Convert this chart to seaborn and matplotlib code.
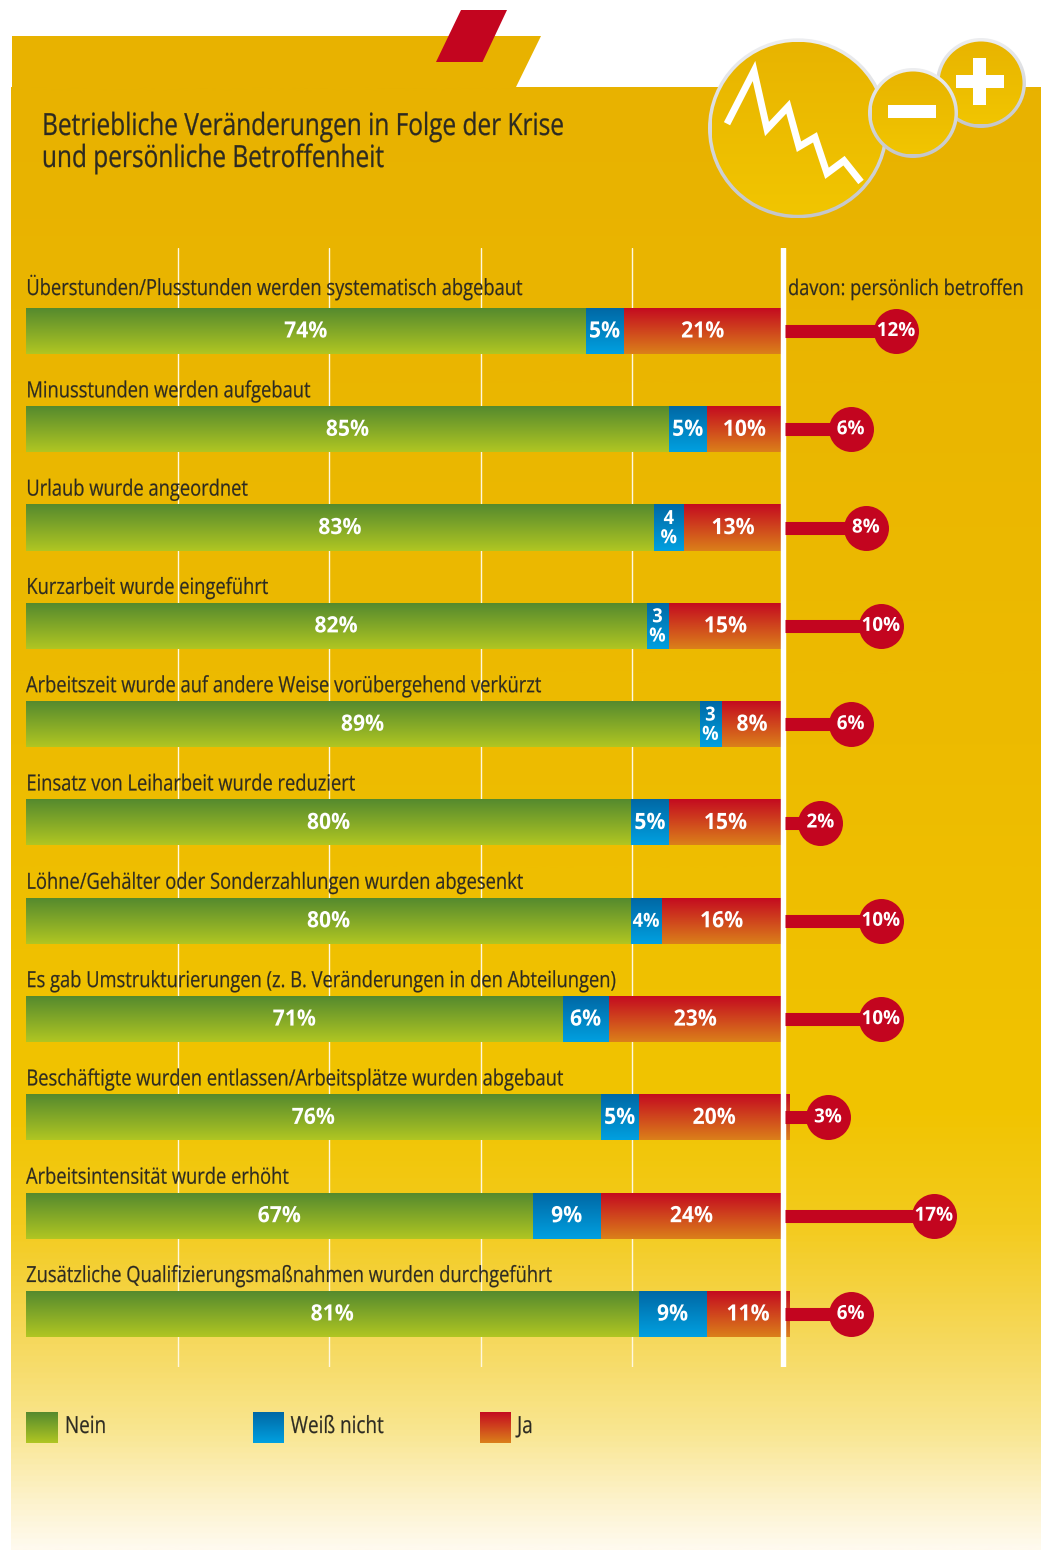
import numpy as np
import matplotlib
matplotlib.use("Agg")
import matplotlib.pyplot as plt
from matplotlib.colors import LinearSegmentedColormap, to_rgb
from matplotlib.patches import Polygon, Circle, Rectangle
from matplotlib.patheffects import AbstractPathEffect
from matplotlib.transforms import Affine2D
import seaborn as sns

# Survey results, one entry per measure (percent)
categories = [
    "Überstunden/Plusstunden werden systematisch abgebaut",
    "Minusstunden werden aufgebaut",
    "Urlaub wurde angeordnet",
    "Kurzarbeit wurde eingeführt",
    "Arbeitszeit wurde auf andere Weise vorübergehend verkürzt",
    "Einsatz von Leiharbeit wurde reduziert",
    "Löhne/Gehälter oder Sonderzahlungen wurden abgesenkt",
    "Es gab Umstrukturierungen (z. B. Veränderungen in den Abteilungen)",
    "Beschäftigte wurden entlassen/Arbeitsplätze wurden abgebaut",
    "Arbeitsintensität wurde erhöht",
    "Zusätzliche Qualifizierungsmaßnahmen wurden durchgeführt",
]
nein = [74, 85, 83, 82, 89, 80, 80, 71, 76, 67, 81]
weiss_nicht = [5, 5, 4, 3, 3, 5, 4, 6, 5, 9, 9]
ja = [21, 10, 13, 15, 8, 15, 16, 23, 20, 24, 11]
betroffen = [12, 6, 8, 10, 6, 2, 10, 10, 3, 17, 6]

title_lines = ["Betriebliche Veränderungen in Folge der Krise",
               "und persönliche Betroffenheit"]
side_heading = "davon: persönlich betroffen"
legend_labels = ["Nein", "Weiß nicht", "Ja"]

GREEN = ("#558A2E", "#B0C622")
BLUE = ("#0068A5", "#00A0E0")
RED = ("#C40B20", "#DB801A")
LOLLI = "#C3051F"
INK = "#2C2A22"

W, H = 1046, 1550
sns.set_theme(style="white")
plt.rcParams["font.family"] = ["Open Sans", "DejaVu Sans"]

fig = plt.figure(figsize=(W / 100, H / 100), dpi=100, facecolor="white")


class Condensed(AbstractPathEffect):
    """Narrow a text's glyphs horizontally about its left edge or its centre,
    with an optional thin outline to restore the stem weight lost by narrowing."""

    def __init__(self, factor, anchor="left", stroke=0.0):
        super().__init__()
        self.factor = factor
        self.anchor = anchor
        self.stroke = stroke

    def draw_path(self, renderer, gc, tpath, affine, rgbFace=None):
        box = tpath.get_extents(affine)
        x0 = box.x0 if self.anchor == "left" else 0.5 * (box.x0 + box.x1)
        squeeze = Affine2D().translate(-x0, 0).scale(self.factor, 1).translate(x0, 0)
        gc.set_linewidth(self.stroke)
        renderer.draw_path(gc, tpath, affine + squeeze, rgbFace)


def gradient(c0, c1, n=128):
    a, b = np.array(to_rgb(c0)), np.array(to_rgb(c1))
    t = np.linspace(0, 1, n)[:, None]
    return (a * (1 - t) + b * t)[:, None, :]


# --- page layer in pixel coordinates ---
bg = fig.add_axes([0, 0, 1, 1], zorder=0)
bg.set_xlim(0, W)
bg.set_ylim(H, 0)
bg.axis("off")

panel_cmap = LinearSegmentedColormap.from_list("panel", [
    (0.00, "#E8B200"), (0.45, "#EDBB00"), (0.70, "#F1C400"), (0.78, "#F3CB1E"),
    (0.86, "#F6D95E"), (0.92, "#F9E690"), (0.97, "#FDF3CE"), (1.00, "#FFFAEE"),
])
shade = np.linspace(0, 1, 512)[:, None]
bg.imshow(shade, cmap=panel_cmap, extent=[11, 1041, 1550, 87], aspect="auto",
          origin="upper", zorder=1)
bg.add_patch(Polygon([(12, 36), (541, 36), (516, 87), (12, 87)], fc="#E8B200", ec="none", zorder=1))
bg.add_patch(Polygon([(461, 10), (507, 10), (482.5, 62), (436, 62)], fc="#C3051F", ec="none", zorder=2))

for i, line in enumerate(title_lines):
    bg.text(41.5, 135 + 32 * i, line, fontsize=22, color=INK, va="baseline", ha="left", zorder=5,
            path_effects=[Condensed(0.80, stroke=0.2)])


def badge(cx, cy, r, z):
    """Round icon with a shaded rim and a soft gold fill."""
    bg.imshow(gradient("#EDEEF0", "#C4C6CA"), extent=[cx - r, cx + r, cy + r, cy - r],
              aspect="auto", origin="upper", zorder=z,
              clip_path=Circle((cx, cy), r, transform=bg.transData))
    inner = r - 3.5
    bg.imshow(gradient("#E8B400", "#F1C500"), extent=[cx - inner, cx + inner, cy + inner, cy - inner],
              aspect="auto", origin="upper", zorder=z + 0.1,
              clip_path=Circle((cx, cy), inner, transform=bg.transData))


badge(798, 128.3, 90, 6)
zig_x = [727, 754, 767, 788, 799, 815, 827, 844, 861]
zig_y = [123.7, 71, 129, 106.7, 146.7, 137.3, 173.3, 160.7, 182]
bg.plot(zig_x, zig_y, color="white", lw=5, solid_joinstyle="miter", solid_capstyle="butt", zorder=6.5)
badge(981, 83, 45, 7)
badge(913, 113, 45, 8)
bg.add_patch(Rectangle((888, 104.7), 47.5, 13, fc="white", ec="none", zorder=9))
bg.add_patch(Rectangle((955.5, 75), 48, 12.7, fc="white", ec="none", zorder=9))
bg.add_patch(Rectangle((973, 57.7), 13.2, 47.3, fc="white", ec="none", zorder=9))

# Legend swatches with the same vertical shading as the bars
for x0, w, (c0, c1), label in zip([26, 253, 480], [32, 31, 31], [GREEN, BLUE, RED], legend_labels):
    bg.imshow(gradient(c0, c1), extent=[x0, x0 + w, 1443, 1412], aspect="auto", origin="upper", zorder=5)
    bg.text(x0 + w + 6.5, 1433, label, fontsize=17, color=INK, va="baseline", ha="left", zorder=5,
            path_effects=[Condensed(0.80, stroke=0.15)])
bg.set_xlim(0, W)
bg.set_ylim(H, 0)

# --- chart layer: percent on x, rows on y ---
px_per_pct = 7.5625
row_step = 98.3
ax_left, ax_right, ax_top, ax_bottom = 26, 1041, 248, 1367
ax = fig.add_axes([ax_left / W, 1 - ax_bottom / H, (ax_right - ax_left) / W, (ax_bottom - ax_top) / H], zorder=1)
ax.patch.set_visible(False)

nein_a, weiss_a, ja_a = map(np.array, (nein, weiss_nicht, ja))
stack_tops = [nein_a + weiss_a + ja_a, nein_a + weiss_a, nein_a]
palette = [RED, BLUE, GREEN]
for layer, (vals, (c0, c1)) in enumerate(zip(stack_tops, palette)):
    start = len(ax.patches)
    sns.barplot(x=vals, y=categories, color=c0, saturation=1, width=46 / row_step,
                orient="h", ax=ax, zorder=2 + layer * 0.1, linewidth=0)
    for bar in ax.patches[start:]:
        x, y, w, h = bar.get_x(), bar.get_y(), bar.get_width(), bar.get_height()
        bar.set_facecolor("none")
        ax.imshow(gradient(c0, c1), extent=[x, x + w, y + h, y], aspect="auto",
                  origin="upper", zorder=2.05 + layer * 0.1)

sns.despine(ax=ax, left=True, bottom=True)
ax.set_xlim(0, (ax_right - ax_left) / px_per_pct)
ax.set_ylim((ax_bottom - 331) / row_step, (ax_top - 331) / row_step)
ax.set_xticks([20.1, 40.1, 60.1, 80.1])
ax.set_yticks([])
ax.tick_params(length=0, labelbottom=False, labelleft=False)
ax.set_xlabel("")
ax.set_ylabel("")
ax.set_axisbelow(True)
ax.xaxis.grid(True, color="#FFF8E0", lw=1.0)
ax.axvline(100.1, color="white", lw=3.9, zorder=4)

# Right-hand column: share personally affected, on its own zero point
side_zero = 103.05
side_start = 100.4
rows = np.arange(len(categories))
side_x = side_zero + np.array(betroffen)
ax.hlines(rows, side_start, side_x, color=LOLLI, lw=9.4, zorder=4.2)
sns.scatterplot(x=side_x, y=rows, s=1050, color=LOLLI, linewidth=0, ax=ax, zorder=4.3,
                clip_on=False, legend=False)
ax.set_xlim(0, (ax_right - ax_left) / px_per_pct)
ax.set_ylim((ax_bottom - 331) / row_step, (ax_top - 331) / row_step)

value_style = dict(color="white", fontweight="bold", ha="center", va="center", zorder=6, clip_on=False)
blue_text = ["5%", "5%", "4\n%", "3\n%", "3\n%", "5%", "4%", "6%", "5%", "9%", "9%"]
value_nudge = 1 / row_step
# The top row's caption sits a little higher above its bar than the others
caption_offset = [-36] + [-32] * (len(categories) - 1)
for i, cat in enumerate(categories):
    ax.text(0.0, i + caption_offset[i] / row_step, cat, fontsize=16, color=INK, ha="left", va="baseline",
            zorder=6, path_effects=[Condensed(0.825, stroke=0.15)])
    n, b, j = nein[i], weiss_nicht[i], ja[i]
    tight = [Condensed(0.94, "center")]
    yv = i + value_nudge
    ax.text(n / 2, yv, f"{n}%", fontsize=16.2, path_effects=tight, **value_style)
    label = blue_text[i]
    size = 16.2 if "\n" not in label and label != "4%" else 14
    ax.text(n + b / 2, yv, label, fontsize=size, linespacing=0.95, path_effects=tight, **value_style)
    ax.text(n + b + j / 2, yv, f"{j}%", fontsize=16.2, path_effects=tight, **value_style)
    ax.text(side_x[i], i, f"{betroffen[i]}%", fontsize=14, path_effects=[Condensed(0.97, "center")], **value_style)

ax.text((906.5 - ax_left) / px_per_pct, -36 / row_step, side_heading, fontsize=15.5, color=INK,
        ha="center", va="baseline", zorder=6, path_effects=[Condensed(0.847, "center", stroke=0.15)])

fig.savefig("out.png", dpi=100, facecolor="white")
